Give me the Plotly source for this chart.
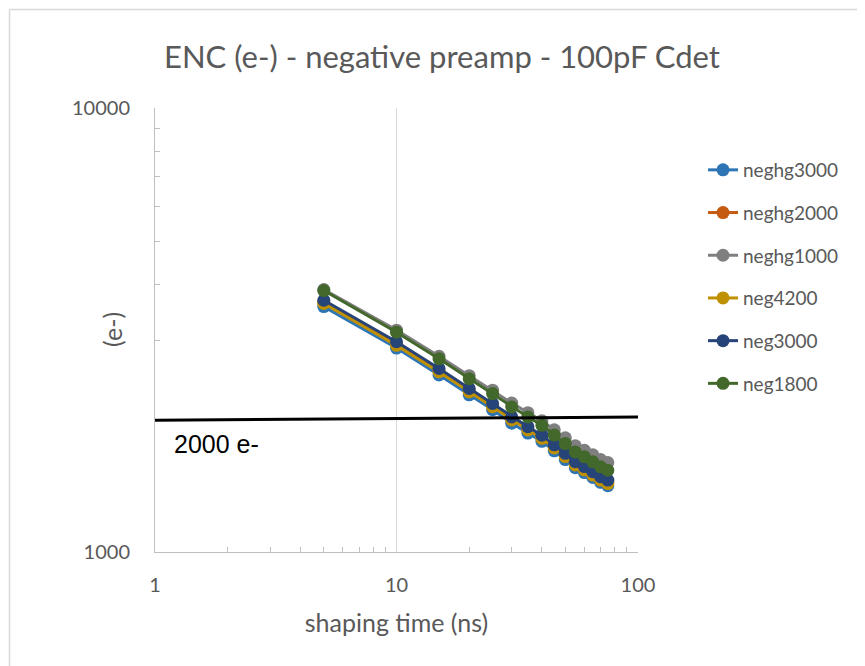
import plotly.graph_objects as go

shaping_time = [5, 10, 15, 20, 25, 30, 35, 40, 45, 50, 55, 60, 65, 70, 75]

neghg3000 = [3570, 2880, 2505, 2260, 2092, 1950, 1853, 1775, 1690, 1615, 1548, 1510, 1472, 1435, 1410]
neghg2000 = [3650, 2940, 2560, 2310, 2140, 1995, 1895, 1815, 1725, 1650, 1580, 1540, 1500, 1462, 1437]
neghg1000 = [3900, 3160, 2760, 2495, 2315, 2165, 2060, 1975, 1885, 1808, 1735, 1695, 1655, 1615, 1590]
neg4200 = [3630, 2920, 2545, 2295, 2125, 1983, 1883, 1803, 1715, 1640, 1570, 1530, 1490, 1452, 1426]
neg3000 = [3690, 2975, 2590, 2335, 2160, 2015, 1915, 1833, 1743, 1668, 1597, 1557, 1517, 1478, 1452]
neg1800 = [3880, 3126, 2723, 2456, 2274, 2121, 2014, 1929, 1834, 1755, 1680, 1638, 1596, 1555, 1528]

series_names = ["neghg3000", "neghg2000", "neghg1000", "neg4200", "neg3000", "neg1800"]
series_values = [neghg3000, neghg2000, neghg1000, neg4200, neg3000, neg1800]
series_colors = ["#2E75B6", "#C55A11", "#7F7F7F", "#BF9000", "#264478", "#43682B"]

ref_line_x = [1, 100]
ref_line_y = [1980, 2014]
ref_label = "2000 e-"

# page has an 8px body margin; the div is 857x658 starting at (8,8)
W, H = 857, 658
L, R, T, B = 147, 227, 100, 114
PW, PH = W - L - R, H - T - B

fig = go.Figure()
for name, vals, col in zip(series_names, series_values, series_colors):
    fig.add_trace(go.Scatter(
        x=shaping_time, y=vals, name=name, mode="lines+markers",
        legendgroup=name,
        line=dict(color=col, width=3),
        marker=dict(color=col, size=13),
    ))

fig.add_trace(go.Scatter(
    x=ref_line_x, y=ref_line_y, mode="lines", showlegend=False,
    line=dict(color="black", width=3), hoverinfo="skip",
))

grey = "#595959"
fig.update_layout(
    width=W, height=H,
    margin=dict(l=L, r=R, t=T, b=B),
    paper_bgcolor="white", plot_bgcolor="white",
    font=dict(family="Lato", color=grey),
    title=dict(text="ENC (e-) - negative preamp - 100pF Cdet", x=(442 - 8) / W, xanchor="center",
               y=1 - 49 / H, yanchor="middle", font=dict(size=31, color=grey)),
    legend=dict(x=1 + (57 + 8) / PW, xanchor="left", y=1 - (162 - 100 - 19) / PH, yanchor="top",
                font=dict(size=19, color=grey), tracegroupgap=15,
                bgcolor="rgba(0,0,0,0)"),
    xaxis=dict(type="log", range=[0, 2], showgrid=True, gridcolor="#D9D9D9", gridwidth=1,
               tickvals=[1, 10, 100], ticktext=["1", "10", "100"],
               showline=True, linecolor="#BFBFBF", linewidth=1, mirror=False,
               ticks="", zeroline=False, ticklabelstandoff=15,
               tickfont=dict(size=20, color=grey),
               minor=dict(ticks="inside", ticklen=5, tickcolor="#BFBFBF", showgrid=False,
                          tickvals=[2, 3, 4, 5, 6, 7, 8, 9, 20, 30, 40, 50, 60, 70, 80, 90]),
               title=dict(text="shaping time (ns)", font=dict(size=25, color=grey), standoff=19)),
    yaxis=dict(type="log", range=[3, 4], showgrid=True, gridcolor="#D9D9D9", gridwidth=1,
               tickvals=[1000, 10000], ticktext=["1000", "10000"],
               showline=True, linecolor="#BFBFBF", linewidth=1,
               ticks="", zeroline=False, ticklabelstandoff=20,
               tickfont=dict(size=20, color=grey),
               minor=dict(ticks="inside", ticklen=5, tickcolor="#BFBFBF", showgrid=False,
                          tickvals=[2000, 3000, 4000, 5000, 6000, 7000, 8000, 9000])),
    annotations=[
        dict(text=ref_label, xref="x", yref="y", x=0.0704, y=3.244,
             xanchor="left", yanchor="middle", showarrow=False,
             font=dict(family="Liberation Sans", size=25, color="black")),
        dict(text="(e-)", xref="paper", yref="paper", x=(112 - 155) / PW, y=1 - (330 - 108) / PH,
             xanchor="center", yanchor="middle", textangle=-90, showarrow=False,
             font=dict(size=25, color=grey)),
    ],
    shapes=[
        dict(type="line", xref="paper", yref="paper", x0=(1.5 - L) / PW, x1=(1.5 - L) / PW,
             y0=(T + PH - 1.5) / PH, y1=-1, line=dict(color="#D9D9D9", width=1.5)),
        dict(type="line", xref="paper", yref="paper", x0=(1.5 - L) / PW, x1=2,
             y0=(T + PH - 1.5) / PH, y1=(T + PH - 1.5) / PH, line=dict(color="#D9D9D9", width=1.5)),
    ],
)

fig.write_html("out.html")
